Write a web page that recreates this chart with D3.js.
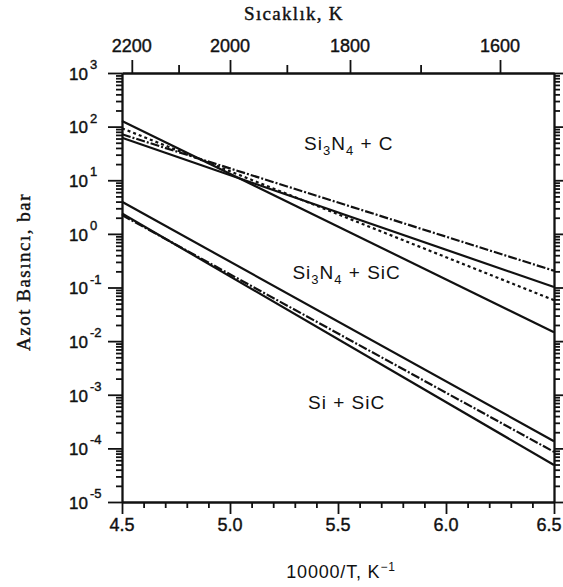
<!DOCTYPE html>
<html>
<head>
<meta charset="utf-8">
<script src="https://cdnjs.cloudflare.com/ajax/libs/d3/7.8.5/d3.min.js"></script>
<style>
  body { margin: 0; background: #fff; }
  text { paint-order: stroke; }
</style>
</head>
<body>
<div id="chart"></div>
<script>
const xRange = [4.5, 6.5];
const yRange = [1e-5, 1e3];
const xTicksMajor = [4.5, 5.0, 5.5, 6.0, 6.5];
const tempMajor = [2200, 2000, 1800, 1600];
const tempMinor = [2100, 1900, 1700];
const yExponents = [3, 2, 1, 0, -1, -2, -3, -4, -5];

// boundary lines: N2 pressure (bar) at 10000/T = 4.5 and at 6.5
const lineStyles = ["dashdot", "solid", "dotted", "solid", "solid", "dashdot", "solid"];
const pAt45 = [72, 62, 93, 127, 3.97, 2.24, 2.4];
const pAt65 = [0.205, 0.102, 0.058, 0.0147, 1.36e-4, 8.6e-5, 4.9e-5];

const regionLabels = ["Si3N4 + C", "Si3N4 + SiC", "Si + SiC"];
const regionX = [5.55, 5.54, 5.54];
const regionP = [49, 0.19, 7.3e-4];

const W = 563, H = 587;
const margin = {top: 73, right: 9, bottom: 85, left: 122};
const sans = "'Liberation Sans', Arial, Helvetica, sans-serif";
const serif = "'Liberation Serif', 'Times New Roman', serif";
const ink = "#111";

const svg = d3.select("#chart")
    .append("svg")
    .attr("width", W)
    .attr("height", H);

const x = d3.scaleLinear().domain(xRange).range([margin.left, W - margin.right]);
const y = d3.scaleLog().domain(yRange).range([H - margin.bottom, margin.top]);

const majorY = yExponents.map(e => Math.pow(10, e));
const minorY = [];
for (let e = -5; e < 3; e++) {
    for (let k = 2; k <= 9; k++) minorY.push(k * Math.pow(10, e));
}
const minorX = d3.range(45, 66).filter(v => v % 5 !== 0).map(v => v / 10);

function drawAxis(axisFn, transform, vals, size) {
    const g = svg.append("g")
        .attr("transform", transform)
        .call(axisFn.tickValues(vals).tickSize(size).tickSizeOuter(0).tickFormat(""));
    g.selectAll("line, path").attr("stroke", ink).attr("stroke-width", 1.8);
    return g;
}

// thin outline to thicken glyphs like the scanned original
function heavy(sel) {
    return sel.attr("fill", ink).attr("stroke", ink).attr("stroke-width", 0.4);
}

const bottomY = H - margin.bottom;
const rightX = W - margin.right;

// left / right log axes
drawAxis(d3.axisLeft(y), `translate(${margin.left},0)`, minorY, 6);
drawAxis(d3.axisLeft(y), `translate(${margin.left},0)`, majorY, 14);
drawAxis(d3.axisRight(y), `translate(${rightX},0)`, minorY, 6);
drawAxis(d3.axisRight(y), `translate(${rightX},0)`, majorY, 12);

// bottom axis
drawAxis(d3.axisBottom(x), `translate(0,${bottomY})`, minorX, 6);
drawAxis(d3.axisBottom(x), `translate(0,${bottomY})`, xTicksMajor, 12);

// top temperature axis
drawAxis(d3.axisTop(x), `translate(0,${margin.top})`, tempMinor.map(T => 10000 / T), 8);
drawAxis(d3.axisTop(x), `translate(0,${margin.top})`, tempMajor.map(T => 10000 / T), 13);

// bottom tick labels (last one nudged so it stays inside the frame)
svg.append("g")
    .selectAll("text")
    .data(xTicksMajor)
    .join("text")
    .attr("x", (d, i) => x(d) - (i === xTicksMajor.length - 1 ? 5 : 0))
    .attr("y", bottomY + 29)
    .attr("text-anchor", "middle")
    .style("font", `18px ${sans}`)
    .call(heavy)
    .text(d => d.toFixed(1));

// top tick labels
svg.append("g")
    .selectAll("text")
    .data(tempMajor)
    .join("text")
    .attr("x", d => x(10000 / d))
    .attr("y", 52)
    .attr("text-anchor", "middle")
    .style("font", `18px ${sans}`)
    .call(heavy)
    .text(d => d);

// y tick labels 10^n
const yl = svg.append("g").selectAll("g").data(yExponents).join("g");
yl.append("text")
    .attr("x", 88)
    .attr("y", e => y(Math.pow(10, e)))
    .attr("dy", "0.4em")
    .attr("text-anchor", "end")
    .style("font", `17px ${sans}`)
    .call(heavy)
    .text("10");
yl.append("text")
    .attr("x", 90)
    .attr("y", e => y(Math.pow(10, e)) - 4)
    .attr("text-anchor", "start")
    .style("font", `13px ${sans}`)
    .call(heavy)
    .text(e => e < 0 ? "-" + (-e) : e);

// boundary lines
const line = d3.line().x(d => x(d[0])).y(d => y(d[1]));
const dashes = {solid: null, dotted: "3,3", dashdot: "9,2,2,2"};
svg.append("g")
    .attr("fill", "none")
    .selectAll("path")
    .data(pAt45.map((p, i) => ({pts: [[xRange[0], p], [xRange[1], pAt65[i]]], style: lineStyles[i]})))
    .join("path")
    .attr("d", d => line(d.pts))
    .attr("stroke", ink)
    .attr("stroke-width", 2.2)
    .attr("stroke-dasharray", d => dashes[d.style]);

// region labels with subscripts
regionLabels.forEach((label, i) => {
    const t = svg.append("text")
        .attr("x", x(regionX[i]))
        .attr("y", y(regionP[i]))
        .attr("dy", "0.35em")
        .attr("text-anchor", "middle")
        .style("font", `19px ${sans}`)
        .style("letter-spacing", "1px")
        .attr("fill", ink);
    label.split(/(\d)/).forEach((part, j) => {
        if (!part) return;
        if (j % 2 === 1) {
            t.append("tspan").attr("dy", 5).style("font-size", "13px").text(part);
        } else {
            const s = t.append("tspan").text(part);
            if (j > 0) s.attr("dy", -5);
        }
    });
});

// axis titles
svg.append("text")
    .attr("x", 294)
    .attr("y", 20)
    .attr("text-anchor", "middle")
    .style("font", `19px ${serif}`)
    .style("letter-spacing", "1.3px")
    .call(heavy)
    .text("Sıcaklık, K");

svg.append("text")
    .attr("transform", "translate(30,272) rotate(-90)")
    .attr("text-anchor", "middle")
    .style("font", `19px ${serif}`)
    .style("letter-spacing", "1.5px")
    .call(heavy)
    .text("Azot Basıncı, bar");

const xt = svg.append("text")
    .attr("x", 341)
    .attr("y", 578)
    .attr("text-anchor", "middle")
    .style("font", `18px ${sans}`)
    .style("letter-spacing", "0.8px")
    .attr("fill", ink);
xt.append("tspan").text("10000/T, K");
xt.append("tspan").attr("dy", -7).style("font-size", "12px").text("−1");
</script>
</body>
</html>
